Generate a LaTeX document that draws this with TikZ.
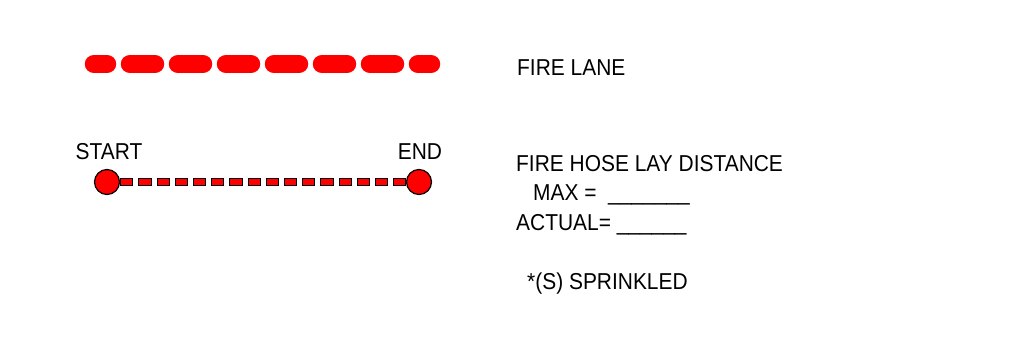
\documentclass[tikz,border=0pt]{standalone}
\usepackage{fontspec}
\setmainfont{Liberation Sans}[FakeStretch=0.91]
\begin{document}
\begin{tikzpicture}[x=1pt,y=-1pt,
    legend/.style={anchor=base west,inner sep=0pt,font=\fontsize{23}{27}\selectfont},
    tag/.style={anchor=base,inner sep=0pt,font=\fontsize{23}{27}\selectfont},
    hosept/.style={circle,draw=black,line width=1.2pt,fill=red,minimum size=25pt,inner sep=0pt}]
    \useasboundingbox (0,0) rectangle (1015,348);
    \coordinate (laneA) at (94,64);
    \coordinate (laneB) at (431,64);
    \draw[red,line width=18.5pt,line cap=round,dash pattern=on 25pt off 23pt,dash phase=12pt] (laneA) -- (laneB);
    \node[hosept] (hoseA) at (107,182) {};
    \node[hosept] (hoseB) at (419,182) {};
    \draw[black,line width=7.5pt,dash pattern=on 13.2pt off 5pt] (hoseA.east) -- (hoseB.west);
    \draw[red,line width=5.3pt,dash pattern=on 11.2pt off 7pt,dash phase=17.2pt] (hoseA.east) -- (hoseB.west);
    \node[tag] (startTxt) at (109,159) {START};
    \node[tag] (endTxt) at (420,159) {END};
    \node[legend] (laneTxt) at (517,75) {FIRE LANE};
    \node[legend] (hoseTxt) at (516,171) {FIRE HOSE LAY DISTANCE};
    \node[legend] (maxTxt) at (533,200) {MAX =\ \ \_\_\_\_\_\_\_};
    \node[legend] (actTxt) at (516,230) {ACTUAL= \_\_\_\_\_\_};
    \node[legend] (sprTxt) at (527,289) {*(S) SPRINKLED};
\end{tikzpicture}
\end{document}
